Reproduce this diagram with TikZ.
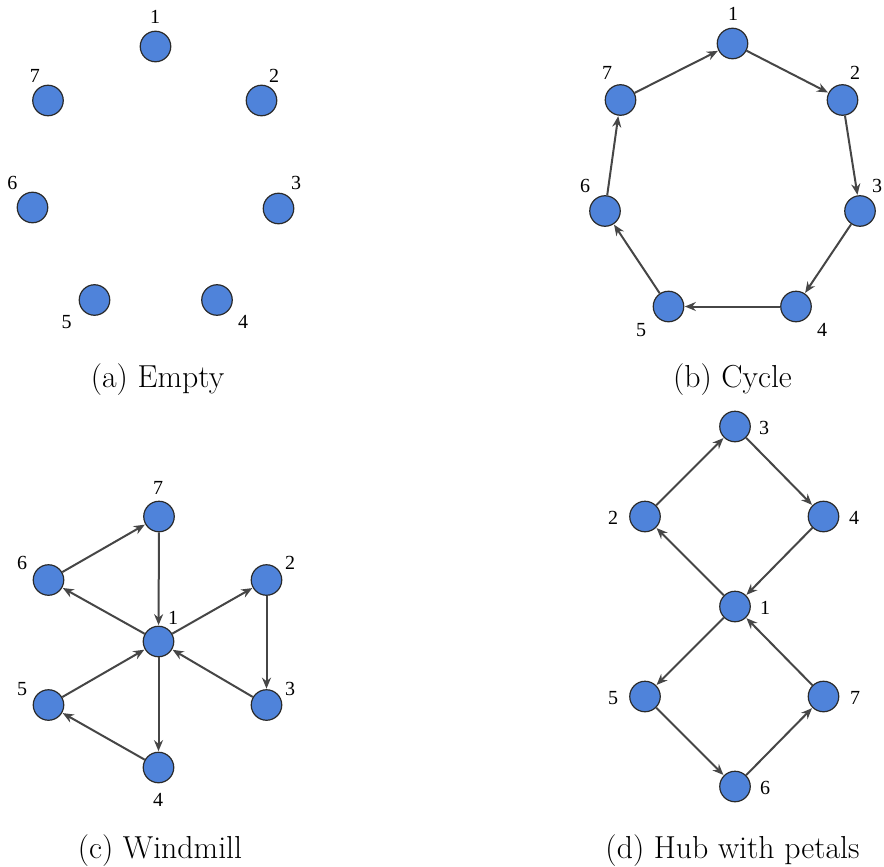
\documentclass[tikz,border=0pt]{standalone}
\usepackage{fontspec}
\newfontfamily\lblfont{Liberation Serif}
\usetikzlibrary{arrows.meta}
\definecolor{nodefill}{HTML}{4F83DA}
\definecolor{nodeedge}{HTML}{2A2A2A}
\definecolor{edgecol}{HTML}{464646}
\tikzset{
  vtx/.style={circle,fill=nodefill,draw=nodeedge,line width=1.2pt,minimum size=30.5pt,inner sep=0pt},
  lbl/.style={font=\lblfont,scale=2,transform shape,inner sep=0pt,text=black},
  captxt/.style={font=\fontsize{31.8}{36}\selectfont,anchor=base,inner sep=0pt},
  arc/.style={draw=edgecol,line width=2pt,-{Stealth[length=11pt,width=9pt]},shorten >=0.5pt}
}
\begin{document}
\begin{tikzpicture}[x=1pt,y=-1pt]
\useasboundingbox (0,0) rectangle (884,867);
% (a) Empty
\node[vtx] (a1) at (155.5,46.5) {};
\node[vtx] (a2) at (261.5,100.5) {};
\node[vtx] (a3) at (278.5,208.5) {};
\node[vtx] (a4) at (217,300) {};
\node[vtx] (a5) at (94.5,300) {};
\node[vtx] (a6) at (32.5,207.5) {};
\node[vtx] (a7) at (48,100.5) {};
\node[lbl] (la1) at (155,17) {1};
\node[lbl] (la2) at (274,76) {2};
\node[lbl] (la3) at (296,183) {3};
\node[lbl] (la4) at (243,322) {4};
\node[lbl] (la5) at (66.5,322) {5};
\node[lbl] (la6) at (12.5,183) {6};
\node[lbl] (la7) at (35,76) {7};
\node[captxt] (capa) at (157.5,387.5) {(a) Empty};
% (b) Cycle
\node[vtx] (b1) at (732.5,43.5) {};
\node[vtx] (b2) at (842.5,100) {};
\node[vtx] (b3) at (860,211) {};
\node[vtx] (b4) at (796,306.5) {};
\node[vtx] (b5) at (668.5,306.5) {};
\node[vtx] (b6) at (605,211) {};
\node[vtx] (b7) at (620.5,100) {};
\node[lbl] (lb1) at (733,14) {1};
\node[lbl] (lb2) at (855,73) {2};
\node[lbl] (lb3) at (877,186) {3};
\node[lbl] (lb4) at (822,330) {4};
\node[lbl] (lb5) at (641,330) {5};
\node[lbl] (lb6) at (585,186) {6};
\node[lbl] (lb7) at (607,73) {7};
\draw[arc] (b1) -- (b2);
\draw[arc] (b2) -- (b3);
\draw[arc] (b3) -- (b4);
\draw[arc] (b4) -- (b5);
\draw[arc] (b5) -- (b6);
\draw[arc] (b6) -- (b7);
\draw[arc] (b7) -- (b1);
\node[captxt] (capb) at (732.5,387.5) {(b) Cycle};
% (c) Windmill
\node[vtx] (c1) at (158.5,641.5) {};
\node[vtx] (c2) at (266.5,580) {};
\node[vtx] (c3) at (266.5,705) {};
\node[vtx] (c4) at (158.5,767.5) {};
\node[vtx] (c5) at (48.5,705) {};
\node[vtx] (c6) at (48.5,580) {};
\node[vtx] (c7) at (159,516.5) {};
\node[lbl] (lc1) at (173,618) {1};
\node[lbl] (lc2) at (290,563) {2};
\node[lbl] (lc3) at (290,689) {3};
\node[lbl] (lc4) at (158,800) {4};
\node[lbl] (lc5) at (22,689) {5};
\node[lbl] (lc6) at (22,563) {6};
\node[lbl] (lc7) at (158,488) {7};
\draw[arc] (c7) -- (c1);
\draw[arc] (c1) -- (c6);
\draw[arc] (c6) -- (c7);
\draw[arc] (c1) -- (c2);
\draw[arc] (c2) -- (c3);
\draw[arc] (c3) -- (c1);
\draw[arc] (c1) -- (c4);
\draw[arc] (c4) -- (c5);
\draw[arc] (c5) -- (c1);
\node[captxt] (capc) at (160,858.5) {(c) Windmill};
% (d) Hub with petals
\node[vtx] (d1) at (735,606.5) {};
\node[vtx] (d2) at (645,516.5) {};
\node[vtx] (d3) at (735,426.5) {};
\node[vtx] (d4) at (823.5,516.5) {};
\node[vtx] (d5) at (645,696.5) {};
\node[vtx] (d6) at (735,786.5) {};
\node[vtx] (d7) at (823.5,696.5) {};
\node[lbl] (ld1) at (765,608) {1};
\node[lbl] (ld2) at (613,518) {2};
\node[lbl] (ld3) at (764,428) {3};
\node[lbl] (ld4) at (854,518) {4};
\node[lbl] (ld5) at (613,698) {5};
\node[lbl] (ld6) at (765,788) {6};
\node[lbl] (ld7) at (855,698) {7};
\draw[arc] (d2) -- (d3);
\draw[arc] (d3) -- (d4);
\draw[arc] (d4) -- (d1);
\draw[arc] (d1) -- (d2);
\draw[arc] (d1) -- (d5);
\draw[arc] (d5) -- (d6);
\draw[arc] (d6) -- (d7);
\draw[arc] (d7) -- (d1);
\node[captxt] (capd) at (732.5,858.5) {(d) Hub with petals};
\end{tikzpicture}
\end{document}
